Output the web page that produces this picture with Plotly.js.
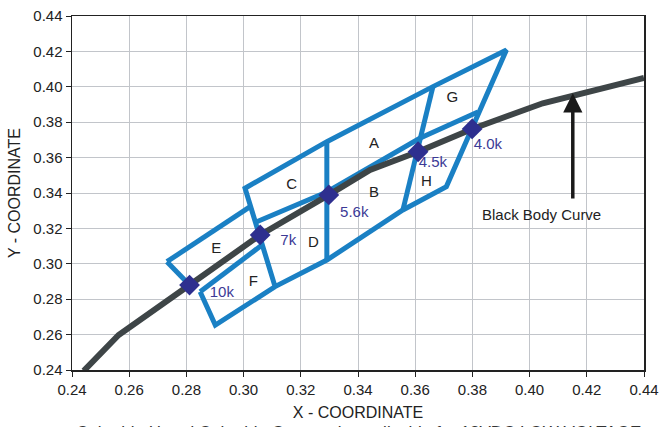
<!DOCTYPE html>
<html>
<head>
<meta charset="utf-8">
<script src="https://cdn.plot.ly/plotly-3.0.1.min.js"></script>
<style>html,body{margin:0;padding:0;background:#fff;}#chart{width:661px;height:427px;}</style>
</head>
<body>
<div id="chart"></div>
<script>
// Black body curve
const bbX = [0.2441, 0.2563, 0.2811, 0.3058, 0.3298, 0.3442, 0.3610, 0.3799, 0.4046, 0.4400];
const bbY = [0.2395, 0.2598, 0.2880, 0.3163, 0.3389, 0.3530, 0.3633, 0.3762, 0.3907, 0.4050];

// CCT points on the curve
const cctLabels = ["10k", "7k", "5.6k", "4.5k", "4.0k"];
const cctX = [0.2811, 0.3058, 0.3298, 0.3610, 0.3799];
const cctY = [0.2880, 0.3163, 0.3389, 0.3633, 0.3762];
const cctTextX = [0.2924, 0.3156, 0.3387, 0.3662, 0.3854];
const cctTextY = [0.2833, 0.3125, 0.3285, 0.3568, 0.3671];

// Bin boundary polylines (null separates segments)
const binX = [
  0.2732, 0.3023, null,
  0.2732, 0.2811, null,
  0.2848, 0.2901, 0.3110, 0.3291, 0.3557, 0.3709, 0.3919, 0.3662, 0.3291, 0.3005, 0.3110, null,
  0.2848, 0.3064, null,
  0.3291, 0.3291, null,
  0.3044, 0.3291, 0.3616, 0.3819, null,
  0.3662, 0.3557
];
const binY = [
  0.3012, 0.3323, null,
  0.3012, 0.2880, null,
  0.2842, 0.2654, 0.2871, 0.3021, 0.3304, 0.3436, 0.4208, 0.4001, 0.3690, 0.3427, 0.2871, null,
  0.2842, 0.3106, null,
  0.3690, 0.3021, null,
  0.3236, 0.3406, 0.3709, 0.3858, null,
  0.4001, 0.3304
];

// Bin letters
const binLabels = ["A", "B", "C", "D", "E", "F", "G", "H"];
const binLabelX = [0.3456, 0.3456, 0.3168, 0.3244, 0.2904, 0.3034, 0.3730, 0.3639];
const binLabelY = [0.3677, 0.3398, 0.3445, 0.3116, 0.3084, 0.2893, 0.3935, 0.3458];

// Axis ticks
const tickVals = [0.24, 0.26, 0.28, 0.30, 0.32, 0.34, 0.36, 0.38, 0.40, 0.42, 0.44];
const tickText = ["0.24", "0.26", "0.28", "0.30", "0.32", "0.34", "0.36", "0.38", "0.40", "0.42", "0.44"];

// Arrow
const arrowX = 0.4151, arrowTipY = 0.3963, arrowTailY = 0.3360;
const arrowLabel = "Black Body Curve";
const arrowLabelX = 0.4041, arrowLabelY = 0.3276;

// Caption (cut off at the bottom edge in the reference)
const captionText = "Color bin H and Color bin G are only applicable for 12VDC LOW VOLTAGE";

const font = "Liberation Sans Narrow, Arial Narrow, Liberation Sans, Arial, sans-serif";

const traces = [
  {x: binX, y: binY, mode: "lines", line: {color: "#1a80c4", width: 5}, connectgaps: false, hoverinfo: "skip"},
  {x: bbX, y: bbY, mode: "lines", line: {color: "#3e4547", width: 6}, hoverinfo: "skip"},
  {x: cctX, y: cctY, mode: "markers", marker: {symbol: "diamond", size: 16, color: "#2e2f8f"}, hoverinfo: "skip"},
  {x: cctTextX, y: cctTextY, mode: "text", text: cctLabels, textfont: {family: font, size: 15, color: "#3c3a96"}, hoverinfo: "skip"},
  {x: binLabelX, y: binLabelY, mode: "text", text: binLabels, textfont: {family: font, size: 15, color: "#222"}, hoverinfo: "skip"}
];

const axisCommon = {
  range: [0.24, 0.44],
  tickvals: tickVals,
  ticktext: tickText,
  showgrid: true,
  gridcolor: "#c2c5ca",
  gridwidth: 1,
  zeroline: false,
  showline: true,
  linecolor: "#222",
  linewidth: 1.5,
  mirror: true,
  ticks: "outside",
  ticklen: 5,
  tickcolor: "#222",
  tickfont: {family: font, size: 15, color: "#222"}
};

const layout = {
  width: 661, height: 427,
  margin: {l: 72, r: 17, t: 16, b: 57},
  paper_bgcolor: "#fff",
  plot_bgcolor: "#fff",
  showlegend: false,
  xaxis: Object.assign({}, axisCommon, {title: {text: "X - COORDINATE", font: {family: font, size: 16, color: "#222"}, standoff: 10}}),
  yaxis: Object.assign({}, axisCommon, {title: {text: "Y - COORDINATE", font: {family: font, size: 16, color: "#222"}, standoff: 8}}),
  annotations: [
    {x: arrowX, y: arrowTipY, ax: arrowX, ay: arrowTailY, xref: "x", yref: "y", axref: "x", ayref: "y",
     text: "", showarrow: true, arrowhead: 2, arrowsize: 1.1, arrowwidth: 3.5, arrowcolor: "#1a1a1a"},
    {x: arrowLabelX, y: arrowLabelY, xref: "x", yref: "y", text: arrowLabel, showarrow: false,
     font: {family: font, size: 15, color: "#222"}},
    {x: 0.5, y: -0.143, xref: "paper", yref: "paper", yanchor: "top", text: captionText,
     showarrow: false, font: {family: font, size: 17, color: "#333"}}
  ]
};

Plotly.newPlot("chart", traces, layout, {staticPlot: true});
</script>
</body>
</html>
